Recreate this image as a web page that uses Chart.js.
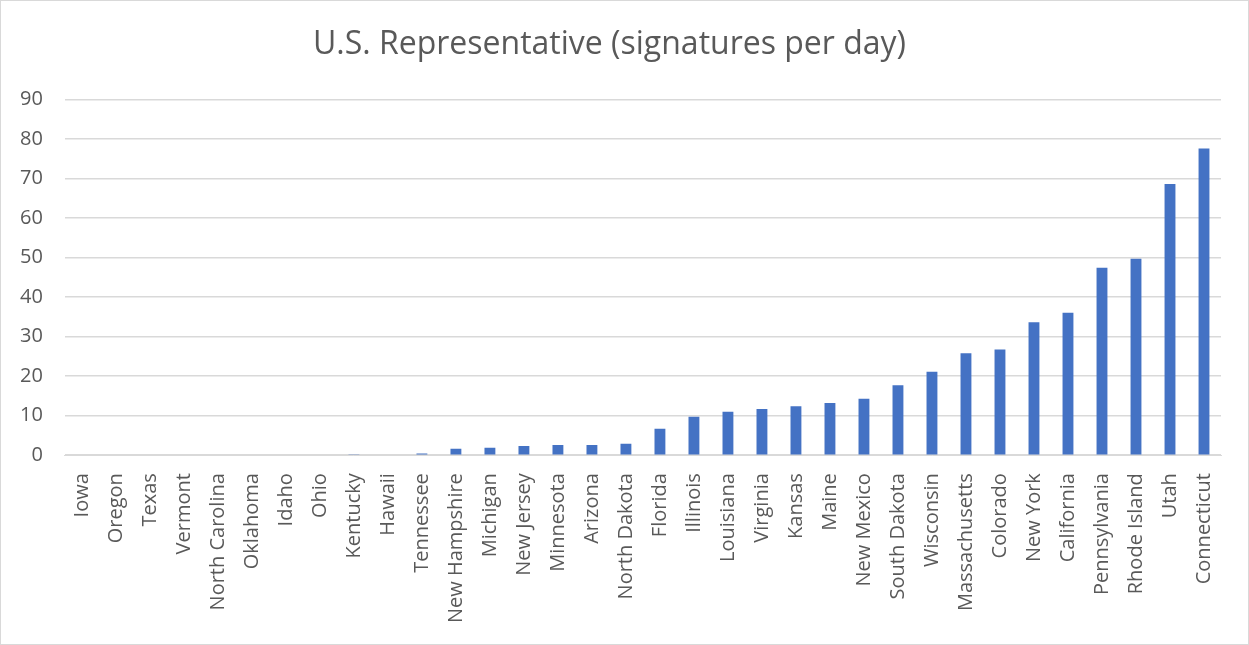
<!DOCTYPE html>
<html>
<head>
<meta charset="utf-8">
<script src="https://cdn.jsdelivr.net/npm/chart.js@4/dist/chart.umd.min.js"></script>
<style>
  html, body { margin: 0; padding: 0; background: #fff; }
  #wrap { width: 1249px; height: 645px; box-sizing: border-box; border: 1px solid #d9d9d9; position: relative; }
</style>
</head>
<body>
<div id="wrap"><canvas id="chart"></canvas></div>
<script>
const states = ['Iowa', 'Oregon', 'Texas', 'Vermont', 'North Carolina', 'Oklahoma', 'Idaho', 'Ohio',
  'Kentucky', 'Hawaii', 'Tennessee', 'New Hampshire', 'Michigan', 'New Jersey', 'Minnesota', 'Arizona',
  'North Dakota', 'Florida', 'Illinois', 'Louisiana', 'Virginia', 'Kansas', 'Maine', 'New Mexico',
  'South Dakota', 'Wisconsin', 'Massachusetts', 'Colorado', 'New York', 'California', 'Pennsylvania',
  'Rhode Island', 'Utah', 'Connecticut']
const signaturesPerDay = [0, 0, 0, 0, 0, 0, 0, 0,
  0.1, 0.15, 0.4, 1.6, 1.9, 2.3, 2.6, 2.6,
  2.9, 6.7, 9.7, 11.0, 11.7, 12.4, 13.2, 14.3,
  17.7, 21.1, 25.8, 26.7, 33.6, 36.0, 47.4,
  49.7, 68.6, 77.6]
const yMax = 90
const yStep = 10

const textColor = '#595959'
const font = "'Open Sans', sans-serif"

const ctx = document.getElementById('chart').getContext('2d')
const chart = new Chart(ctx, {
  type: 'bar',
  data: {
    labels: states,
    datasets: [{
      data: signaturesPerDay,
      backgroundColor: '#4472c4',
      borderWidth: 0,
      barPercentage: 1,
      categoryPercentage: 0.32
    }]
  },
  options: {
    responsive: true,
    maintainAspectRatio: false,
    animation: false,
    layout: { padding: { left: -3, right: 27, top: 8, bottom: 11 } },
    plugins: {
      legend: { display: false },
      tooltip: { enabled: false },
      title: {
        display: true,
        text: 'U.S. Representative (signatures per day)',
        color: textColor,
        font: { family: font, size: 32, weight: 'normal' },
        padding: { top: 17, bottom: 35 }
      }
    },
    scales: {
      x: {
        grid: { display: false },
        border: { display: true, color: '#d9d9d9' },
        ticks: {
          color: textColor,
          font: { family: font, size: 20 },
          minRotation: 90,
          maxRotation: 90,
          autoSkip: false,
          padding: 10
        }
      },
      y: {
        min: 0,
        max: yMax,
        border: { display: false },
        grid: { color: '#d9d9d9', lineWidth: 1.5, drawTicks: false },
        ticks: {
          stepSize: yStep,
          color: textColor,
          font: { family: font, size: 20 },
          padding: 22
        }
      }
    }
  }
})
</script>
</body>
</html>
